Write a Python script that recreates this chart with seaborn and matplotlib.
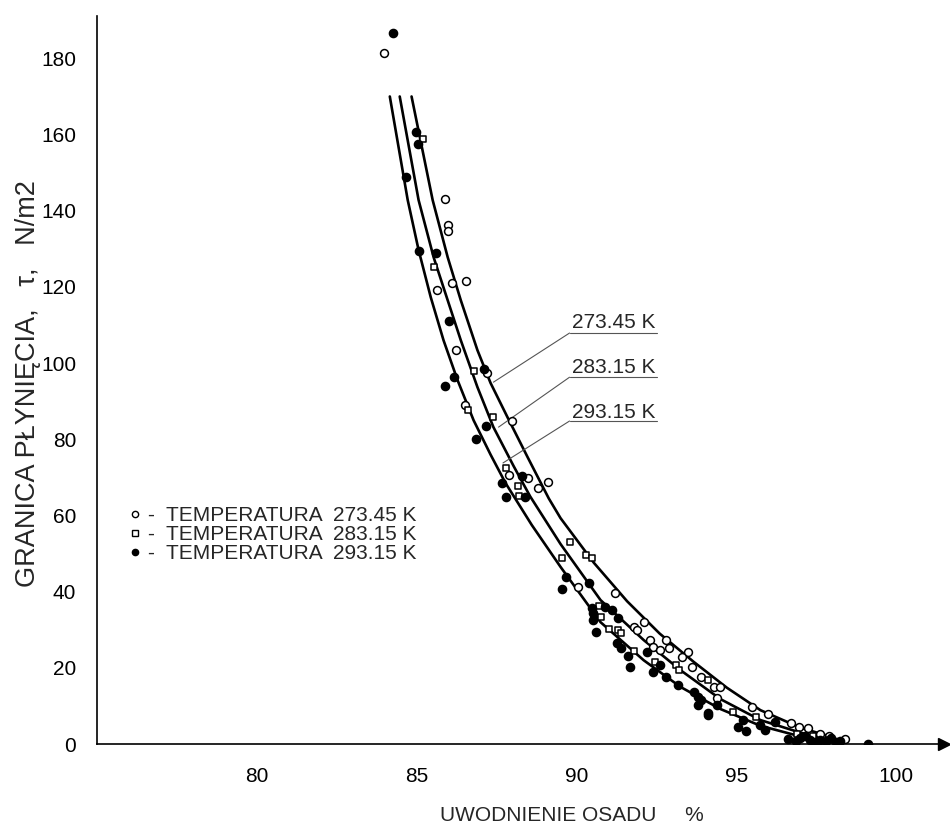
import numpy as np
import pandas as pd
import seaborn as sns
import matplotlib.pyplot as plt
from matplotlib.lines import Line2D

# ---- dane ----
temps = ["273.45 K", "283.15 K", "293.15 K"]

# punkty pomiarowe, 273.45 K (kolka puste)
x_273 = [83.97, 85.88, 85.97, 85.97, 86.1, 86.53, 85.63, 86.22, 87.2, 86.5,
         87.97, 87.9, 88.47, 88.8, 89.1, 90.06, 91.2, 91.8, 92.1, 91.9,
         92.3, 92.4, 92.6, 92.8, 92.9, 93.5, 93.3, 93.6, 93.9, 94.3,
         94.5, 94.4, 95.5, 96.0, 96.7, 96.97, 97.25, 97.6, 97.9, 98.4]
y_273 = [181.4, 143.0, 136.2, 134.6, 121.0, 121.5, 119.2, 103.4, 97.4, 89.0,
         84.8, 70.6, 69.8, 67.2, 68.8, 41.2, 39.6, 30.7, 32.0, 29.9,
         27.3, 25.5, 24.7, 27.3, 25.2, 24.1, 22.8, 20.2, 17.6, 15.0,
         15.0, 12.1, 9.7, 7.9, 5.5, 4.5, 4.2, 2.6, 2.0, 1.3]

# 283.15 K (kwadraty puste)
x_283 = [85.2, 85.53, 86.8, 86.6, 87.4, 87.8, 88.16, 88.2, 89.8, 89.56,
         90.28, 90.47, 90.7, 90.75, 91.0, 91.3, 91.4, 91.8, 92.44, 93.1,
         93.2, 94.1, 94.9, 95.6, 96.9, 97.4, 97.9]
y_283 = [158.8, 125.2, 97.9, 87.7, 85.8, 72.4, 67.7, 65.1, 53.0, 48.8,
         49.6, 48.8, 36.2, 33.3, 30.2, 29.9, 29.1, 24.4, 21.5, 20.7,
         19.4, 16.8, 8.4, 7.1, 2.6, 2.0, 1.2]

# 293.15 K (kropki pelne)
x_293 = [84.25, 84.97, 85.03, 84.66, 85.06, 85.6, 86.0, 86.16, 85.9, 87.1,
         87.16, 86.84, 88.3, 87.66, 87.8, 88.4, 89.66, 89.56, 90.4, 90.47,
         90.5, 90.9, 91.1, 90.5, 91.3, 90.6, 91.25, 91.4, 91.6, 91.66,
         92.2, 92.6, 92.4, 92.8, 93.16, 93.66, 93.8, 93.9, 94.1, 93.8,
         94.4, 94.1, 95.2, 95.06, 95.3, 95.75, 96.2, 95.9, 96.6, 97.0,
         97.3, 97.6, 97.8, 98.1, 99.1, 96.85, 97.15, 97.45, 97.95, 98.25]
y_293 = [186.6, 160.6, 157.5, 148.8, 129.4, 128.9, 111.0, 96.3, 94.0, 98.4,
         83.5, 80.1, 70.3, 68.5, 64.8, 64.8, 43.8, 40.7, 42.3, 35.7,
         34.4, 36.0, 35.2, 32.5, 33.1, 29.4, 26.5, 25.2, 23.1, 20.2,
         24.1, 20.7, 18.9, 17.6, 15.5, 13.6, 12.3, 11.5, 8.1, 10.2,
         10.2, 7.6, 6.3, 4.5, 3.4, 5.0, 5.8, 3.7, 1.3, 1.5,
         1.0, 1.2, 0.8, 0.6, 0.0, 0.7, 2.2, 0.5, 1.6, 0.9]

# krzywe aproksymujace
cx_273 = [84.84, 85.5, 85.97, 86.38, 86.9, 87.31, 87.84, 88.47, 89.13, 89.5,
          90.54, 91.58, 92.6, 93.66, 94.7, 95.75, 97.0, 98.0]
cy_273 = [170, 142.8, 127.8, 116.5, 103.4, 94.8, 85.8, 75.3, 64.5, 59.3,
          47.6, 37.5, 29.0, 21.6, 14.8, 8.9, 4.3, 1.8]
cx_283 = [84.47, 85.06, 85.53, 85.97, 86.38, 86.9, 87.4, 88.03, 88.55, 89.5,
          90.75, 92.1, 93.25, 94.5, 95.75, 97.0, 97.8]
cy_283 = [170, 142.8, 127.8, 116.5, 106.0, 93.7, 83.2, 73.0, 65.0, 52.5,
          37.8, 27.3, 19.4, 11.8, 6.3, 3.0, 1.2]
cx_293 = [84.16, 84.72, 85.06, 85.44, 85.84, 86.28, 86.78, 87.31, 87.78, 88.6,
          89.5, 90.75, 92.1, 93.25, 94.5, 95.75, 97.0, 97.6]
cy_293 = [170, 142.8, 129.7, 117.3, 106.0, 95.5, 85.0, 76.0, 68.5, 57.5,
          46.5, 32.0, 22.0, 15.0, 9.2, 4.8, 2.0, 0.6]

x_ticks = [80, 85, 90, 95, 100]
y_ticks = [0, 20, 40, 60, 80, 100, 120, 140, 160, 180]

# ---- rysunek ----
sns.set_style("white")
plt.rcParams['font.family'] = ['Liberation Sans', 'DejaVu Sans']

fig = plt.figure(figsize=(9.5, 8.24), dpi=100)
ax = fig.add_axes([0.102, 0.097, 0.892, 0.883])

curves = [(cx_273, cy_273), (cx_283, cy_283), (cx_293, cy_293)]
for cx, cy in curves:
    sns.lineplot(x=cx, y=cy, ax=ax, color='black', linewidth=1.9,
                 estimator=None, sort=False)

pts = pd.concat([
    pd.DataFrame({'x': x_273, 'y': y_273, 'T': temps[0]}),
    pd.DataFrame({'x': x_283, 'y': y_283, 'T': temps[1]}),
    pd.DataFrame({'x': x_293, 'y': y_293, 'T': temps[2]}),
])
styles = {temps[0]: ('o', 'white', 32), temps[1]: ('s', 'white', 24),
          temps[2]: ('o', 'black', 34)}
for t in temps:
    m, fc, sz = styles[t]
    sns.scatterplot(data=pts[pts['T'] == t], x='x', y='y', ax=ax, marker=m,
                    s=sz, facecolor=fc, edgecolor='black',
                    linewidth=1.1, zorder=3, legend=False)

ax.set_xlim(75, 101.5)
ax.set_ylim(0, 191)
ax.set_xticks(x_ticks)
ax.set_xticks(range(80, 101), minor=True)
ax.set_yticks(y_ticks)
ax.set_yticks(range(10, 181, 20), minor=True)
ax.tick_params(axis='x', which='both', direction='inout', length=13, width=1.1,
               labelsize=15, pad=10, colors='black')
ax.tick_params(axis='y', which='both', direction='out', length=10, width=1.1,
               labelsize=15, pad=5, colors='black')

for s in ['top', 'right']:
    ax.spines[s].set_visible(False)
for s in ['left', 'bottom']:
    ax.spines[s].set_color('black')
    ax.spines[s].set_linewidth(1.2)

# strzalki na koncach osi
ax.plot(1, 0, '>k', ms=8, transform=ax.get_yaxis_transform(), clip_on=False)
ax.plot(0, 1, '^k', ms=8, transform=ax.get_xaxis_transform(), clip_on=False)

ax.set_xlabel('UWODNIENIE OSADU     %', fontsize=15)
ax.xaxis.set_label_coords(0.561, -0.085)
ax.set_ylabel('GRANICA PŁYNIĘCIA,   τ,   N/m2', fontsize=19.5)
ax.yaxis.set_label_coords(-0.066, 0.496)

# opisy krzywych z odnosnikami
notes = [(temps[0], 109.2, 107.9, (87.4, 95.0)),
         (temps[1], 97.4, 96.3, (87.56, 83.2)),
         (temps[2], 85.6, 84.8, (87.7, 73.8))]
for lab, ty, uy, end in notes:
    ax.text(89.85, ty, lab, fontsize=15, ha='left', va='baseline')
    ax.plot([89.78, 92.5], [uy, uy], color='#555555', lw=0.8)
    ax.plot([89.78, end[0]], [uy, end[1]], color='#555555', lw=0.8)

handles = [Line2D([], [], ls='none', marker='o', ms=4.5, mfc='white', mec='black', mew=1),
           Line2D([], [], ls='none', marker='s', ms=4.5, mfc='white', mec='black', mew=1),
           Line2D([], [], ls='none', marker='o', ms=4.5, mfc='black', mec='black')]
labels = ['-  TEMPERATURA  ' + t for t in temps]
ax.legend(handles, labels, loc='center left', bbox_to_anchor=(0.038, 0.288),
          frameon=False, fontsize=15, handlelength=0.6, handletextpad=0.3,
          labelspacing=0.0, borderpad=0, borderaxespad=0)

fig.savefig('out.png', dpi=100)
